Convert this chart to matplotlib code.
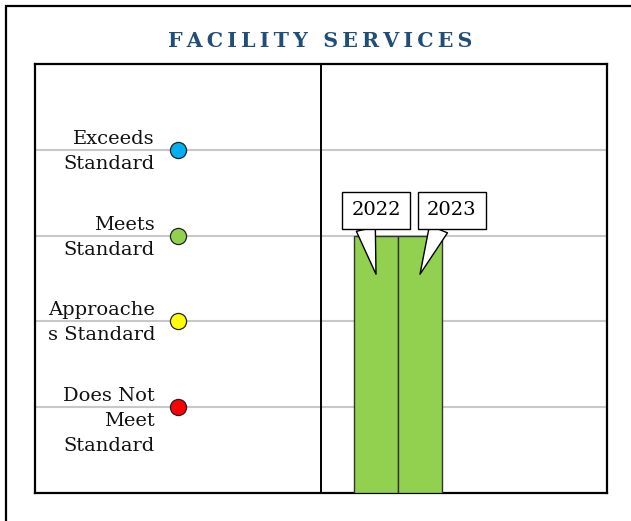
import matplotlib
matplotlib.use("Agg")
import matplotlib.pyplot as plt
from matplotlib.patches import Rectangle
import matplotlib.transforms as mtransforms

plt.rcParams['font.family'] = ['DejaVu Serif']

# ---- data ----
title = "FACILITY SERVICES"
levels = [1, 2, 3, 4]
level_labels = ["Does Not\nMeet\nStandard", "Approache\ns Standard", "Meets\nStandard", "Exceeds\nStandard"]
level_colors = ["#FF0000", "#FFFF00", "#92D050", "#00B0F0"]
years = ["2022", "2023"]
scores = [3, 3]
bar_color = "#92D050"

fig = plt.figure(figsize=(6.31, 5.21), dpi=100)
ax = fig.add_axes([35/631, 28/521, 572/631, 429/521])

xpos = list(range(len(years)))
ax.bar(xpos, scores, width=1.0, color=bar_color, edgecolor="#333333", linewidth=1.0, zorder=3)
ax.set_xlim(-7.75, 5.25)
ax.set_ylim(0, 5)

ax.set_yticks(levels)
ax.set_yticklabels([])
ax.set_xticks([])
ax.tick_params(axis='y', length=0)
ax.grid(axis='y', color="#C8C8C8", linewidth=1.5, zorder=0)
ax.set_axisbelow(True)
for s in ax.spines.values():
    s.set_linewidth(1.6)
    s.set_color("black")
ax.axvline(sum(ax.get_xlim())/2, color="black", linewidth=1.4, zorder=4)

# level labels and dots
trans = mtransforms.blended_transform_factory(ax.transAxes, ax.transData)
for lv, lab, col in zip(levels, level_labels, level_colors):
    ax.annotate(lab, xy=(0.2098, lv), xycoords=trans, xytext=(0, 14.4), textcoords='offset points',
                ha='right', va='top', fontsize=14, linespacing=1.5, color="#111111", zorder=5)
    ax.scatter([0.25], [lv], s=135, color=col, edgecolor="#222222", linewidth=0.9,
               transform=trans, zorder=5, clip_on=False)

# callouts
offsets = [(0, 46), (23, 46)]
relx = [0.25, 0.31]
for x, yr, sc, off, rx in zip(xpos, years, scores, offsets, relx):
    ax.annotate(yr, xy=(x, sc - 0.45), xytext=off, textcoords='offset points',
                ha='center', va='center', fontsize=14, zorder=6,
                bbox=dict(boxstyle='square,pad=0.48', fc='white', ec='black', lw=1.0),
                arrowprops=dict(arrowstyle='wedge,tail_width=1.0,shrink_factor=0.5',
                                relpos=(rx, 0.0),
                                fc='white', ec='black', lw=1.0, shrinkA=0, shrinkB=0))

# title
spaced = "\u2009".join(title)
fig.text(0.508, 1 - 41/521, spaced, ha='center', va='center',
         fontsize=14.8, fontweight='bold', color="#1F4E79")

# outer border
fig.patches.append(Rectangle((6/631, -0.05), 1.0, 1 - 6/521 + 0.05, transform=fig.transFigure,
                             fill=False, ec='black', lw=1.6, clip_on=False))

fig.savefig("out.png", dpi=100)
